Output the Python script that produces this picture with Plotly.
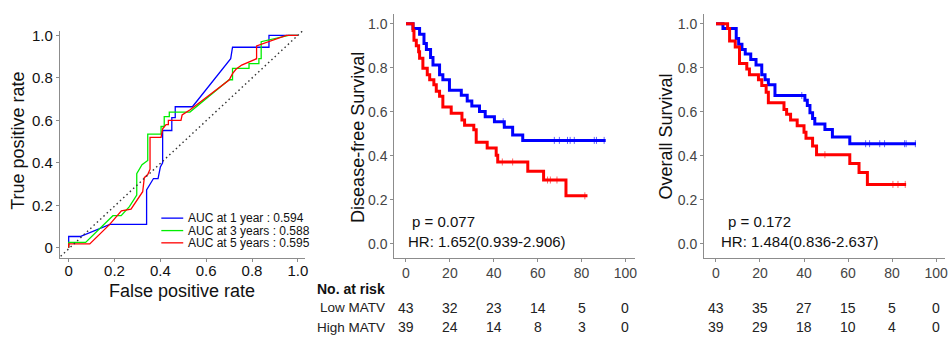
import plotly.graph_objects as go

W, H = 952, 338
FONT = "Liberation Sans, Arial, sans-serif"

# ---------------- data ----------------
roc_1y_fpr = [0, 0, 0.05, 0.18, 0.34, 0.34, 0.37, 0.39, 0.40, 0.41, 0.41, 0.45, 0.45, 0.465, 0.465, 0.54, 0.707, 0.715, 0.874, 0.874, 1.0]
roc_1y_tpr = [0, 0.053, 0.053, 0.11, 0.11, 0.272, 0.326, 0.326, 0.38, 0.40, 0.552, 0.552, 0.613, 0.613, 0.664, 0.664, 0.89, 0.944, 0.944, 1.0, 1.0]

roc_3y_fpr = [0, 0, 0.074, 0.193, 0.229, 0.265, 0.297, 0.297, 0.32, 0.345, 0.345, 0.403, 0.403, 0.417, 0.417, 0.439, 0.439, 0.529, 0.70, 0.715, 0.715, 0.787, 0.787, 0.83, 0.83, 0.84, 0.84, 0.88, 0.96, 1.0]
roc_3y_tpr = [0, 0.025, 0.025, 0.151, 0.151, 0.194, 0.248, 0.349, 0.391, 0.411, 0.535, 0.535, 0.571, 0.571, 0.617, 0.617, 0.639, 0.639, 0.791, 0.791, 0.845, 0.845, 0.867, 0.867, 0.89, 0.89, 0.97, 0.98, 1.0, 1.0]

roc_5y_fpr = [0, 0, 0.092, 0.178, 0.23, 0.272, 0.323, 0.33, 0.345, 0.355, 0.355, 0.403, 0.41, 0.425, 0.435, 0.435, 0.49, 0.495, 0.53, 0.70, 0.715, 0.73, 0.755, 0.82, 0.82, 0.87, 0.95, 1.0]
roc_5y_tpr = [0, 0.018, 0.018, 0.109, 0.174, 0.182, 0.264, 0.33, 0.345, 0.37, 0.52, 0.52, 0.56, 0.58, 0.58, 0.60, 0.60, 0.625, 0.65, 0.79, 0.82, 0.84, 0.86, 0.89, 0.95, 0.97, 1.0, 1.0]

roc_names = ["AUC at 1 year : 0.594", "AUC at 3 years : 0.588", "AUC at 5 years : 0.595"]
diag_x = [-0.035, 1.02]
diag_y = [-0.04, 1.02]

dfs_low_t = [0, 3.2, 6.2, 8.2, 9.3, 11.2, 12.3, 15.3, 16.8, 19.8, 25.2, 27.9, 30.0, 33.5, 36.1, 40.3, 44.8, 48.6, 53.2, 91.0]
dfs_low_s = [1.0, 0.978, 0.952, 0.91, 0.883, 0.847, 0.813, 0.768, 0.746, 0.698, 0.675, 0.649, 0.626, 0.601, 0.578, 0.555, 0.53, 0.495, 0.47, 0.47]
dfs_low_cens = [44.3, 67.6, 69.9, 73.6, 74.8, 76.7, 85.8, 86.8, 90.3]

dfs_high_t = [0, 3.2, 3.64, 4.7, 5.76, 6.2, 7.7, 9.7, 10.8, 12.7, 13.8, 15.3, 16.8, 20.6, 25.5, 26.7, 30.9, 32.0, 37.0, 41.1, 41.8, 55.5, 62.7, 72.9, 82.7]
dfs_high_s = [1.0, 0.97, 0.925, 0.9, 0.873, 0.843, 0.798, 0.768, 0.746, 0.723, 0.693, 0.671, 0.622, 0.593, 0.563, 0.539, 0.518, 0.462, 0.435, 0.402, 0.372, 0.33, 0.29, 0.218, 0.218]
dfs_high_cens = [43.9, 48.6, 64.5, 65.8, 68.8, 81.5]

os_low_t = [0, 3.17, 9.2, 10.3, 11.8, 13.3, 15.8, 18.2, 20.8, 22.3, 23.8, 26.8, 40.4, 41.5, 42.7, 43.9, 44.9, 49.5, 52.9, 60.8, 90.9]
os_low_s = [1.0, 0.978, 0.933, 0.907, 0.883, 0.863, 0.838, 0.813, 0.768, 0.746, 0.723, 0.674, 0.653, 0.629, 0.596, 0.57, 0.544, 0.519, 0.485, 0.455, 0.455]
os_low_cens = [39.0, 68.0, 69.8, 74.4, 76.6, 85.7, 86.4, 90.6]

os_high_t = [0, 5.28, 6.18, 8.75, 10.7, 14.0, 15.2, 19.3, 20.8, 22.8, 23.8, 30.9, 32.1, 33.9, 36.9, 40.0, 40.9, 43.9, 45.7, 60.8, 65.0, 68.8, 86.4]
os_high_s = [1.0, 0.978, 0.922, 0.895, 0.82, 0.794, 0.768, 0.746, 0.719, 0.689, 0.641, 0.611, 0.589, 0.563, 0.537, 0.507, 0.48, 0.444, 0.405, 0.365, 0.324, 0.27, 0.27]
os_high_cens = [49.5, 80.4, 82.7, 86.0]

risk_times = [0, 20, 40, 60, 80, 100]
dfs_risk_low = [43, 32, 23, 14, 5, 0]
dfs_risk_high = [39, 24, 14, 8, 3, 0]
os_risk_low = [43, 35, 27, 15, 5, 0]
os_risk_high = [39, 29, 18, 10, 4, 0]
group_labels = ["Low MATV", "High MATV"]

roc_ticks = [0, 0.2, 0.4, 0.6, 0.8, 1.0]
roc_ticktext = ["0", "0.2", "0.4", "0.6", "0.8", "1.0"]
km_yticks = [0, 0.2, 0.4, 0.6, 0.8, 1.0]
km_yticktext = ["0.0", "0.2", "0.4", "0.6", "0.8", "1.0"]
km_xticks = [0, 20, 40, 60, 80, 100]

# ---------------- helpers ----------------
def px(x):
    return x / W

def py(y):
    return 1 - y / H

def step_at(ts, ss, t):
    val = ss[0]
    for ti, si in zip(ts, ss):
        if ti <= t:
            val = si
    return val

BLUE, GREEN, RED = "#0000FF", "#00EE00", "#FF0000"

fig = go.Figure()

# ROC
for xs, ys, c, n in [(roc_1y_fpr, roc_1y_tpr, BLUE, roc_names[0]),
                     (roc_3y_fpr, roc_3y_tpr, GREEN, roc_names[1]),
                     (roc_5y_fpr, roc_5y_tpr, RED, roc_names[2])]:
    fig.add_trace(go.Scatter(x=xs, y=ys, mode="lines", line=dict(color=c, width=1.3),
                             name=n, xaxis="x", yaxis="y", showlegend=False))
fig.add_trace(go.Scatter(x=diag_x, y=diag_y, mode="lines",
                         line=dict(color="#333", width=1.4, dash="1.5px,3px"),
                         xaxis="x", yaxis="y", showlegend=False, cliponaxis=False))

# KM curves
def km(ts, ss, cens, color, xa, ya):
    fig.add_trace(go.Scatter(x=ts, y=ss, mode="lines", line=dict(color=color, width=3, shape="hv"),
                             xaxis=xa, yaxis=ya, showlegend=False))
    fig.add_trace(go.Scatter(x=cens, y=[step_at(ts, ss, t) for t in cens], mode="markers",
                             marker=dict(symbol="line-ns-open", size=5, color=color,
                                         line=dict(color=color, width=1)),
                             opacity=0.6, xaxis=xa, yaxis=ya, showlegend=False))

km(dfs_low_t, dfs_low_s, dfs_low_cens, BLUE, "x2", "y2")
km(dfs_high_t, dfs_high_s, dfs_high_cens, RED, "x2", "y2")
km(os_low_t, os_low_s, os_low_cens, BLUE, "x3", "y3")
km(os_high_t, os_high_s, os_high_cens, RED, "x3", "y3")

axcommon = dict(showline=True, linecolor="#8c8c8c", linewidth=1, ticks="outside", ticklen=3,
                tickcolor="#8c8c8c", showgrid=False, zeroline=False, fixedrange=True)

roc_tickfont = dict(family=FONT, size=15, color="#111")
km_tickfont = dict(family=FONT, size=14, color="#444")

ydom = [py(256.7), py(27)]
ydom_km = [py(256.7), py(10)]

fig.update_layout(
    width=W, height=H, margin=dict(l=0, r=0, t=0, b=0),
    paper_bgcolor="white", plot_bgcolor="white",
    font=dict(family=FONT, color="#111"),
    showlegend=False,
    xaxis=dict(domain=[px(60), px(306)], range=[-0.039, 1.030], tickvals=roc_ticks,
               ticktext=roc_ticktext, tickfont=roc_tickfont, anchor="y",
               ticklabelstandoff=-4, **axcommon),
    yaxis=dict(domain=ydom, range=[-0.0465, 1.022], tickvals=roc_ticks,
               ticktext=roc_ticktext, tickfont=roc_tickfont, anchor="x", **axcommon),
    xaxis2=dict(domain=[px(396), px(638)], range=[-5.31, 104.5], tickvals=km_xticks,
                tickfont=km_tickfont, anchor="y2", **axcommon),
    yaxis2=dict(domain=ydom_km, range=[-0.0629, 1.045], tickvals=km_yticks,
                ticktext=km_yticktext, tickfont=km_tickfont, anchor="x2", **axcommon),
    xaxis3=dict(domain=[px(707), px(949)], range=[-5.43, 104.07], tickvals=km_xticks,
                tickfont=km_tickfont, anchor="y3", **axcommon),
    yaxis3=dict(domain=ydom_km, range=[-0.0629, 1.045], tickvals=km_yticks,
                ticktext=km_yticktext, tickfont=km_tickfont, anchor="x3", **axcommon),
)

ann = []
def text(x, y, s, size=14, xanchor="left", angle=0, bold=False, color="#111", xref="paper"):
    ann.append(dict(x=x, y=y, xref=xref, yref="paper", text=("<b>%s</b>" % s if bold else s),
                    showarrow=False, xanchor=xanchor, yanchor="middle", textangle=angle,
                    font=dict(family=FONT, size=size, color=color)))

# axis titles
text(px(18.5), py(138), "True positive rate", size=18, xanchor="center", angle=-90)
text(px(183), py(290), "False positive rate", size=18, xanchor="center")
text(px(360), py(135), "Disease-free Survival", size=18, xanchor="center", angle=-90)
text(px(669), py(134), "Overall Survival", size=18, xanchor="center", angle=-90)

# stats
text(px(412), py(220), "p = 0.077", size=15)
text(px(408), py(240), "HR: 1.652(0.939-2.906)", size=15)
text(px(729), py(220), "p = 0.172", size=15)
text(px(722), py(240), "HR: 1.484(0.836-2.637)", size=15)

# ROC legend
leg_rows = [216.7, 229.3, 241.7]
shapes = []
for yrow, c, n in zip(leg_rows, [BLUE, GREEN, RED], roc_names):
    shapes.append(dict(type="line", xref="paper", yref="paper", x0=px(162), x1=px(184),
                       y0=py(yrow), y1=py(yrow), line=dict(color=c, width=1.3)))
    text(px(186.5), py(yrow), n, size=12)

# risk table
text(px(316), py(288), "No. at risk", size=14, bold=True)
text(px(389), py(307.5), group_labels[0], size=13.5, xanchor="right", color="#222")
text(px(389), py(327), group_labels[1], size=13.5, xanchor="right", color="#222")
for xr, lows, highs in [("x2", dfs_risk_low, dfs_risk_high), ("x3", os_risk_low, os_risk_high)]:
    for t, a, b in zip(risk_times, lows, highs):
        text(t, py(307.5), str(a), size=14, xanchor="center", xref=xr, color="#222")
        text(t, py(327), str(b), size=14, xanchor="center", xref=xr, color="#222")

fig.update_layout(annotations=ann, shapes=shapes)
fig.write_html("out.html")
